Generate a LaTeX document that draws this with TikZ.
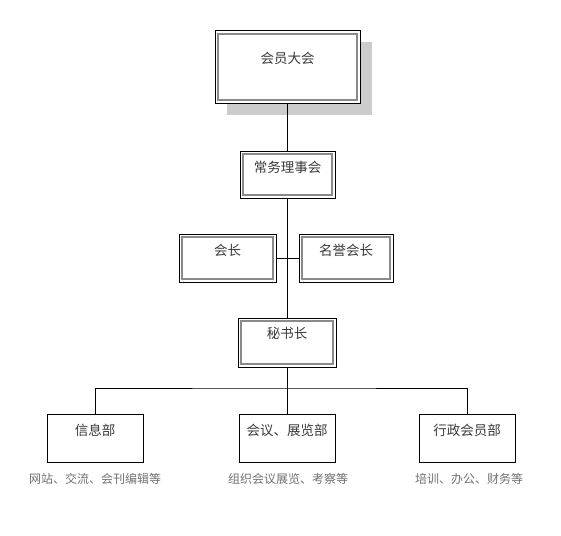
\documentclass[tikz,border=0pt]{standalone}
\usepackage{fontspec}
\newfontfamily\cjk{Noto Sans CJK SC}
\usetikzlibrary{shadows}
\definecolor{txt}{HTML}{3A3A3A}
\definecolor{captxt}{HTML}{707070}
\definecolor{shadowgray}{HTML}{CCCCCC}
\definecolor{innergray}{HTML}{8A8A8A}
\tikzset{
  base/.style={draw=black, line width=1pt, fill=white, rectangle, inner sep=0pt},
  dblbox/.style={base,
    path picture={\draw[innergray, line width=1.2pt]
      ([shift={(3pt,-3pt)}]path picture bounding box.north west) rectangle
      ([shift={(-3pt,3pt)}]path picture bounding box.south east);}},
  boxtext/.style={font=\cjk\fontsize{13.5}{15}\selectfont, text=txt, inner sep=0pt},
  captext/.style={font=\cjk\fontsize{12}{14}\selectfont, text=captxt, inner sep=0pt},
  conn/.style={draw=black, line width=1pt},
}
\begin{document}
\begin{tikzpicture}[x=1pt,y=-1pt]
\useasboundingbox (0,0) rectangle (561,535);
% shadow of top box
\fill[shadowgray] (227,42) rectangle (372,115);
% boxes
\node[dblbox, minimum width=145pt, minimum height=72pt] (top) at (287.5,67) {};
\node[dblbox, minimum width=95pt, minimum height=47pt] (cw) at (287.5,174.5) {};
\node[dblbox, minimum width=97pt, minimum height=48pt] (hz) at (227.5,258) {};
\node[dblbox, minimum width=94pt, minimum height=48pt] (my) at (346,258) {};
\node[dblbox, minimum width=98pt, minimum height=49pt] (ms) at (287,342.5) {};
\node[base, minimum width=96pt, minimum height=48pt] (xx) at (95,438) {};
\node[base, minimum width=96pt, minimum height=48pt] (hy) at (287,438) {};
\node[base, minimum width=96pt, minimum height=48pt] (xz) at (467,438) {};
% texts
\node[boxtext] (ttop) at (287.5,58) {会员大会};
\node[boxtext] (tcw) at (287.5,167) {常务理事会};
\node[boxtext] (thz) at (227.5,250) {会长};
\node[boxtext] (tmy) at (346,250) {名誉会长};
\node[boxtext] (tms) at (287,333) {秘书长};
\node[boxtext] (txx) at (95,430) {信息部};
\node[boxtext] (thy) at (287,430) {会议、展览部};
\node[boxtext] (txz) at (467,430) {行政会员部};
\node[captext] (cxx) at (95,479) {网站、交流、会刊编辑等};
\node[captext] (chy) at (288,479) {组织会议展览、考察等};
\node[captext] (cxz) at (469,479) {培训、办公、财务等};
% connectors
\coordinate (j1) at (287,258);
\coordinate (j2) at (287,388);
\draw[conn] (top.south -| j1) -- (cw.north -| j1);
\draw[conn] (cw.south -| j1) -- (ms.north -| j1);
\draw[conn] (hz.east) -- (my.west);
\draw[conn] (ms.south) -- (j2);
\draw[conn] (xx.north) |- (j2) -| (xz.north);
\draw[conn] (j2) -- (hy.north);
\end{tikzpicture}
\end{document}
